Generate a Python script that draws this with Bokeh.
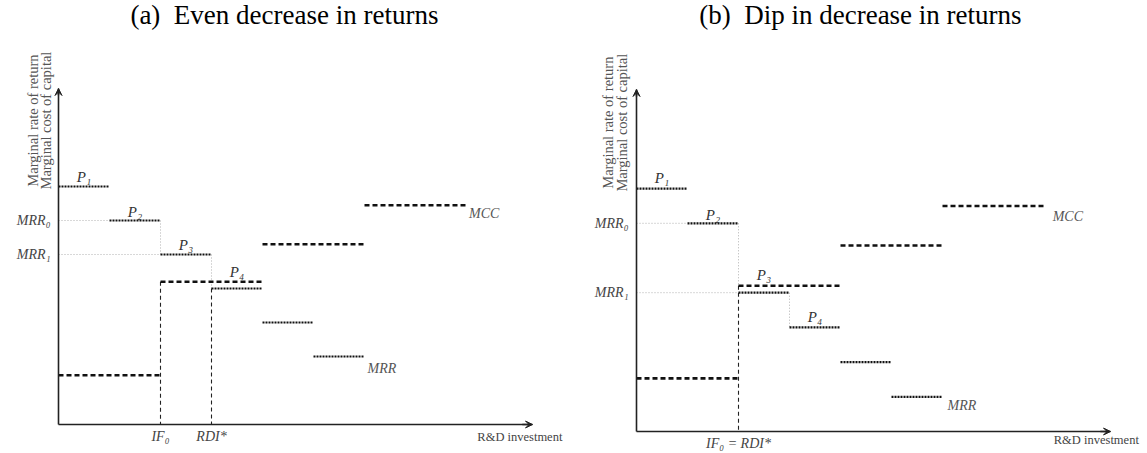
from math import pi
from bokeh.plotting import figure
from bokeh.models import Range1d, FixedTicker, Label, Arrow, VeeHead
from bokeh.layouts import row
from bokeh.embed import file_html
from bokeh.resources import INLINE

# ---------------- data ----------------
step_x0 = [0, 1, 2, 3, 4, 5]
step_x1 = [1, 2, 3, 4, 5, 6]
step_names = ["P₁", "P₂", "P₃", "P₄"]
mcc_x0 = [0, 2, 4, 6]
mcc_x1 = [2, 4, 6, 8]

a_title = "(a)\u2002Even decrease in returns"
a_mrr = [7, 6, 5, 4, 3, 2]
a_mcc = [1.45, 4.2, 5.3, 6.45]
a_if0 = 2
a_rdi = 3
a_yticks = [6, 5]
a_ylabels = ["MRR₀", "MRR₁"]
a_xticks = [2, 3]
a_xlabels = ["IF₀", "RDI*"]
a_plabel_y = [7.28, 6.25, 5.27, 4.5]

b_title = "(b)\u2002Dip in decrease in returns"
b_mrr = [7, 6, 4, 3, 2, 1]
b_mcc = [1.53, 4.2, 5.36, 6.5]
b_if0 = 2
b_yticks = [6, 4]
b_ylabels = ["MRR₀", "MRR₁"]
b_xticks = [2]
b_xlabels = ["IF₀ = RDI*"]
b_plabel_y = [7.3, 6.25, 4.5, 3.3]

x_axis_label = "R&D investment"
y_axis_lines = ["Marginal rate of return", "Marginal cost of capital"]

SERIF = "Liberation Serif"
LIGHT = "#b0b0b0"
AXC = "#222222"


def make_panel(width, height, ox, oy, ux, uy, xmax, ymax, title, title_x, title_y,
               mrr, mcc, yticks, ylabels, xticks, xlabels, plabel_y,
               ref_h, ref_v, dash_v, mcc_lab, mrr_lab, ylab_x, ylab_y, xlab_pos):
    # ox, oy: pixel position of the origin inside the figure; ux, uy: pixels per unit
    xr = Range1d(-ox / ux, (width - ox) / ux)
    yr = Range1d(-(height - oy) / uy, oy / uy)
    p = figure(width=width, height=height, x_range=xr, y_range=yr,
               output_backend="svg", toolbar_location=None,
               min_border_left=0, min_border_right=0, min_border_top=0, min_border_bottom=0)
    p.outline_line_color = None
    p.xgrid.visible = False
    p.ygrid.visible = False
    p.xaxis.fixed_location = 0
    p.yaxis.fixed_location = 0
    p.xaxis.bounds = (0, xmax)
    p.yaxis.bounds = (0, ymax)
    for ax, ticks, labs in ((p.xaxis, xticks, xlabels), (p.yaxis, yticks, ylabels)):
        ax.ticker = FixedTicker(ticks=ticks)
        ax.major_label_overrides = {t: l for t, l in zip(ticks, labs)}
        ax.major_tick_out = 0
        ax.major_tick_in = 0
        ax.minor_tick_out = 0
        ax.minor_tick_in = 0
        ax.axis_line_width = 1.6
        ax.axis_line_color = AXC
        ax.major_label_text_font = SERIF
        ax.major_label_text_font_style = "italic"
        ax.major_label_text_font_size = "14px"
        ax.major_label_text_color = "#444444"
    p.xaxis.major_label_standoff = 4
    p.yaxis.major_label_standoff = 8

    # light reference lines
    p.segment(x0=[r[0] for r in ref_h], y0=[r[2] for r in ref_h],
              x1=[r[1] for r in ref_h], y1=[r[2] for r in ref_h],
              line_color=LIGHT, line_width=1, line_dash="1 2")
    p.segment(x0=[r[0] for r in ref_v], y0=[r[1] for r in ref_v],
              x1=[r[0] for r in ref_v], y1=[r[2] for r in ref_v],
              line_color=LIGHT, line_width=1, line_dash="1 2")
    # dashed verticals
    p.segment(x0=[r[0] for r in dash_v], y0=[r[1] for r in dash_v],
              x1=[r[0] for r in dash_v], y1=[r[2] for r in dash_v],
              line_color=AXC, line_width=1.1, line_dash="4 3")
    # MCC
    p.segment(x0=mcc_x0, y0=mcc, x1=mcc_x1, y1=mcc,
              line_color="#111111", line_width=2.6, line_dash="5 3")
    # MRR
    p.segment(x0=step_x0, y0=mrr, x1=step_x1, y1=mrr,
              line_color="#111111", line_width=2.2, line_dash="2 1")

    # arrow heads on axes
    head = dict(size=7, line_color=AXC, fill_color=AXC, line_width=1)
    p.add_layout(Arrow(end=VeeHead(**head), x_start=xmax - 0.2, y_start=0, x_end=xmax, y_end=0,
                       line_width=1.6, line_color=AXC))
    p.add_layout(Arrow(end=VeeHead(**head), x_start=0, y_start=ymax - 0.2, x_end=0, y_end=ymax,
                       line_width=1.6, line_color=AXC))

    # step labels
    for i, name in enumerate(step_names):
        p.add_layout(Label(x=(step_x0[i] + step_x1[i]) / 2, y=plabel_y[i], text=name,
                           text_font=SERIF, text_font_style="italic", text_font_size="15px",
                           text_color="#333333", text_align="center", text_baseline="middle"))
    p.add_layout(Label(x=mcc_lab[0], y=mcc_lab[1], text="MCC", text_font=SERIF,
                       text_font_style="italic", text_font_size="14px", text_color="#555555",
                       text_align="left", text_baseline="middle"))
    p.add_layout(Label(x=mrr_lab[0], y=mrr_lab[1], text="MRR", text_font=SERIF,
                       text_font_style="italic", text_font_size="14px", text_color="#555555",
                       text_align="left", text_baseline="middle"))
    # axis titles
    for k, line in enumerate(y_axis_lines):
        p.add_layout(Label(x=ylab_x[k], y=ylab_y, text=line, angle=pi / 2, text_font=SERIF,
                           text_font_size="14.5px", text_color="#555555",
                           text_align="center", text_baseline="middle"))
    p.add_layout(Label(x=xlab_pos[0], y=xlab_pos[1], text=x_axis_label, text_font=SERIF,
                       text_font_size="12.5px", text_color="#444444",
                       text_align="right", text_baseline="middle"))
    # panel title
    p.add_layout(Label(x=title_x, y=title_y, text=title, text_font=SERIF,
                       text_font_size="27px", text_color="#000000",
                       text_align="center", text_baseline="middle"))
    return p


pa = make_panel(572, 452, 58, 424, 51, 34, 474 / 51, 336 / 34, a_title, 4.43, 12.03,
                a_mrr, a_mcc, a_yticks, a_ylabels, a_xticks, a_xlabels, a_plabel_y,
                ref_h=[(0, 1, a_mrr[1]), (0, 2, a_mrr[2])],
                ref_v=[(a_if0, a_mrr[1], a_mrr[2]), (a_rdi, a_mrr[2], a_mrr[3])],
                dash_v=[(a_if0, a_mcc[1], 0), (a_rdi, a_mrr[3], 0)],
                mcc_lab=(8.05, 6.2), mrr_lab=(6.06, 1.65),
                ylab_x=(-0.5, -0.25), ylab_y=8.94, xlab_pos=(9.88, -0.38))

pb = make_panel(573, 452, 64, 431, 51, 34.7, 474 / 51, 342 / 34.7, b_title, 4.39, 12.0,
                b_mrr, b_mcc, b_yticks, b_ylabels, b_xticks, b_xlabels, b_plabel_y,
                ref_h=[(0, 1, b_mrr[1]), (0, 2, b_mrr[2])],
                ref_v=[(b_if0, b_mrr[1], b_mcc[1]), (3, b_mrr[2], b_mrr[3])],
                dash_v=[(b_if0, b_mcc[1], 0)],
                mcc_lab=(8.16, 6.2), mrr_lab=(6.1, 0.75),
                ylab_x=(-0.55, -0.28), ylab_y=8.9, xlab_pos=(9.85, -0.25))

layout = row(pa, pb)
open("out.html", "w").write(file_html(layout, INLINE))
